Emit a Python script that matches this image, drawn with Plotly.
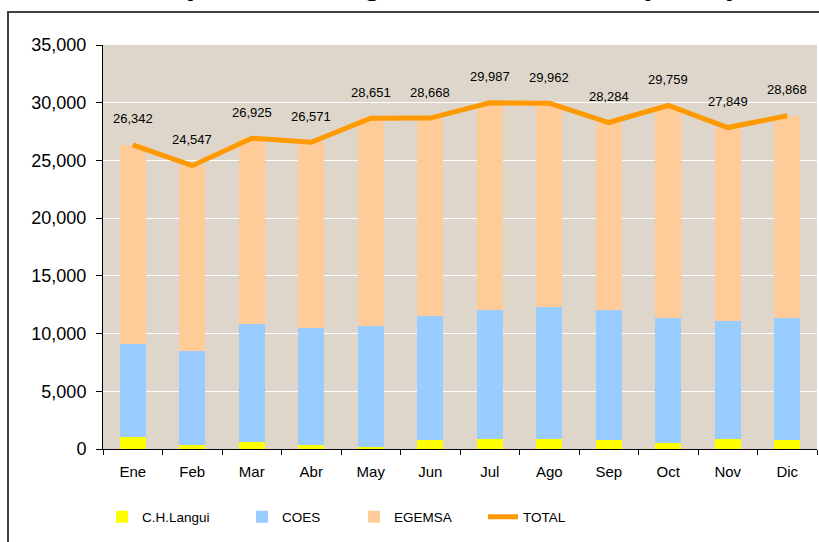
import plotly.graph_objects as go

months = ["Ene", "Feb", "Mar", "Abr", "May", "Jun", "Jul", "Ago", "Sep", "Oct", "Nov", "Dic"]
langui = [1066, 347, 606, 347, 173, 780, 866, 866, 780, 520, 866, 780]
coes = [8030, 8169, 10223, 10135, 10483, 10742, 11176, 11436, 11262, 10829, 10249, 10569]
egemsa = [17246, 16031, 16096, 16089, 17995, 17146, 17945, 17660, 16242, 18410, 16734, 17519]
total = [26342, 24547, 26925, 26571, 28651, 28668, 29987, 29962, 28284, 29759, 27849, 28868]
y_ticks = [0, 5000, 10000, 15000, 20000, 25000, 30000, 35000]
title_text = "Compra de Energía Eléctrica 2008 (MWh)"

FONT = "Liberation Sans, Arial, sans-serif"

fig = go.Figure()
fig.add_trace(go.Bar(x=months, y=langui, name="C.H.Langui", marker_color="#FFFF00",
                     marker_line_width=0, legend="legend"))
fig.add_trace(go.Bar(x=months, y=coes, name="COES", marker_color="#99CCFF",
                     marker_line_width=0, legend="legend2"))
fig.add_trace(go.Bar(x=months, y=egemsa, name="EGEMSA", marker_color="#FFCC99",
                     marker_line_width=0, legend="legend3"))
fig.add_trace(go.Scatter(x=months, y=total, name="TOTAL", mode="lines",
                         line=dict(color="#FF9900", width=5), legend="legend4"))

annotations = []
for m, t in zip(months, total):
    annotations.append(dict(x=m, y=t, xref="x", yref="y", text=f"{t:,}", showarrow=False,
                            yshift=26, font=dict(family=FONT, size=13, color="#000000")))

# title (mostly cut off at top, as in the reference)
annotations.append(dict(x=0.452, y=1.103, xref="paper", yref="paper", xanchor="center",
                        yanchor="bottom", text="<b>" + title_text + "</b>", showarrow=False,
                        font=dict(family=FONT, size=32, color="#000000")))

leg_common = dict(orientation="h", yanchor="middle", xanchor="left", y=-0.168,
                  bgcolor="rgba(0,0,0,0)", font=dict(family=FONT, size=13.5, color="#000000"),
                  borderwidth=0, visible=True)

fig.update_layout(
    width=819, height=542,
    margin=dict(l=103, r=2, t=45, b=93, autoexpand=False),
    paper_bgcolor="#FFFFFF",
    plot_bgcolor="#DED6CA",
    barmode="stack",
    bargap=0.56,
    showlegend=True,
    annotations=annotations,
    legend=dict(x=(102 - 103) / 714, **leg_common),
    legend2=dict(x=(242 - 103) / 714, **leg_common),
    legend3=dict(x=(354 - 103) / 714, **leg_common),
    legend4=dict(x=(483 - 103) / 714, **leg_common),
    shapes=[dict(type="rect", xref="paper", yref="paper",
                 x0=(8 - 103) / 714, x1=1.2, y0=(449 - 12) / 404, y1=-0.5,
                 line=dict(color="#404040", width=2), fillcolor="rgba(0,0,0,0)", layer="below")],
    xaxis=dict(type="category", showline=True, linecolor="#000000", linewidth=1,
               ticks="outside", tickson="boundaries", ticklen=5, tickcolor="#000000",
               ticklabelstandoff=9,
               tickfont=dict(family=FONT, size=15, color="#000000"), showgrid=False,
               zeroline=False),
    yaxis=dict(range=[0, 35000], tickvals=y_ticks, tickformat=",", showline=True,
               linecolor="#000000", linewidth=1, ticks="outside", ticklen=6,
               tickcolor="#000000", ticklabelstandoff=6,
               tickfont=dict(family=FONT, size=18, color="#000000"),
               showgrid=True, gridcolor="#FFFFFF", gridwidth=1, zeroline=False),
)

fig.write_html("out.html", config={"displayModeBar": False},
               post_script="document.body.style.margin='0px';")
